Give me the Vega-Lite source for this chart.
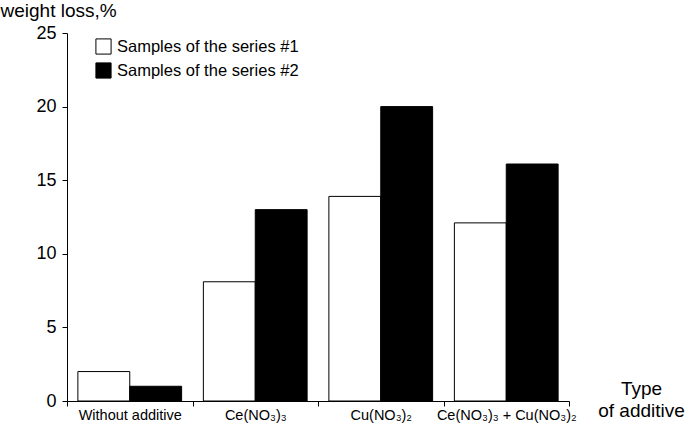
{
  "$schema": "https://vega.github.io/schema/vega-lite/v6.json",
  "autosize": "none",
  "width": 502,
  "height": 368,
  "padding": {"left": 67, "top": 33, "right": 116, "bottom": 25},
  "background": "white",
  "config": {
    "view": {"stroke": null},
    "font": "Liberation Sans",
    "axis": {"domainColor": "black", "tickColor": "black", "labelColor": "black", "titleColor": "black", "grid": false, "titleFontWeight": "normal"}
  },
  "data": {
    "values": [
      {"additive": "Without additive", "series": "Samples of the series #1", "loss": 2},
      {"additive": "Without additive", "series": "Samples of the series #2", "loss": 1},
      {"additive": "Ce(NO₃)₃", "series": "Samples of the series #1", "loss": 8.1},
      {"additive": "Ce(NO₃)₃", "series": "Samples of the series #2", "loss": 13},
      {"additive": "Cu(NO₃)₂", "series": "Samples of the series #1", "loss": 13.9},
      {"additive": "Cu(NO₃)₂", "series": "Samples of the series #2", "loss": 20},
      {"additive": "Ce(NO₃)₃ + Cu(NO₃)₂", "series": "Samples of the series #1", "loss": 12.1},
      {"additive": "Ce(NO₃)₃ + Cu(NO₃)₂", "series": "Samples of the series #2", "loss": 16.1}
    ]
  },
  "mark": {"type": "bar", "stroke": "black", "strokeWidth": 1},
  "encoding": {
    "x": {
      "field": "additive", "type": "nominal", "sort": null,
      "scale": {"paddingInner": 0, "paddingOuter": 0},
      "axis": {
        "labelAngle": 0, "labelFontSize": 14.5, "labelPadding": 2, "tickBand": "extent", "tickSize": 5,
        "labelLimit": 0,
        "title": ["Type", "of additive"], "titleFontSize": 19, "titleAngle": 0,
        "titleX": 574, "titleY": -7, "titleAlign": "center", "titleBaseline": "alphabetic", "titleLineHeight": 22
      }
    },
    "xOffset": {
      "field": "series", "type": "nominal",
      "scale": {"paddingInner": 0, "paddingOuter": 0.21}
    },
    "y": {
      "field": "loss", "type": "quantitative",
      "scale": {"domain": [0, 25], "nice": false},
      "axis": {
        "values": [0, 5, 10, 15, 20, 25], "labelFontSize": 18, "tickSize": 5, "labelPadding": 6,
        "title": "weight loss,%", "titleFontSize": 19, "titleAngle": 0,
        "titleX": -67, "titleY": -17, "titleAlign": "left", "titleBaseline": "alphabetic"
      }
    },
    "fill": {
      "field": "series", "type": "nominal",
      "scale": {"range": ["white", "black"]},
      "legend": {
        "title": null, "orient": "none", "legendX": 28, "legendY": 5,
        "symbolType": "square", "symbolSize": 230, "symbolStrokeColor": "black", "symbolStrokeWidth": 1,
        "labelFontSize": 16.5, "labelColor": "black", "labelLimit": 0, "rowPadding": 3, "labelOffset": 5
      }
    }
  }
}
